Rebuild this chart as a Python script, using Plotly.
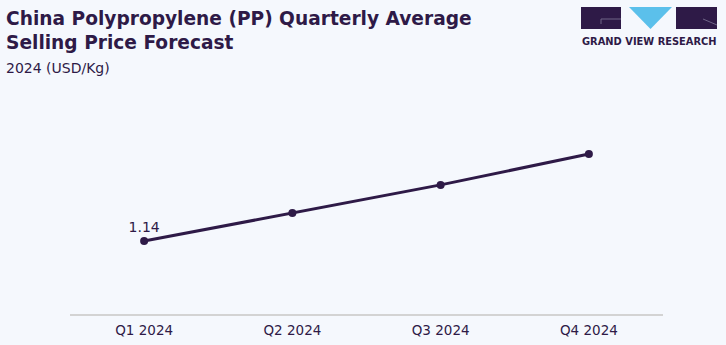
import plotly.graph_objects as go

quarters = ["Q1 2024", "Q2 2024", "Q3 2024", "Q4 2024"]
prices = [1.14, 1.18, 1.22, 1.264]
label_text = ["1.14", "", "", ""]

BG = "#f5f8fd"
DARK = "#2e1a47"

fig = go.Figure()
fig.add_trace(go.Scatter(
    x=quarters, y=prices, mode="lines+markers+text",
    line=dict(color=DARK, width=3),
    marker=dict(color=DARK, size=8),
    text=label_text, textposition="top center",
    textfont=dict(family="DejaVu Sans", size=14, color=DARK),
    cliponaxis=False, hoverinfo="skip",
))

fig.update_layout(
    width=726, height=345,
    margin=dict(l=70, r=63, t=100, b=31, autoexpand=False),
    paper_bgcolor=BG, plot_bgcolor=BG,
    showlegend=False,
    xaxis=dict(type="category", range=[-0.5, 3.5], showgrid=False, zeroline=False,
               showline=True, linecolor="#d3d3d3", linewidth=2, automargin=False,
               ticks="outside", ticklen=3, tickcolor="rgba(0,0,0,0)",
               tickfont=dict(family="DejaVu Sans", size=13.5, color=DARK)),
    yaxis=dict(range=[1.036, 1.341], visible=False, showgrid=False, zeroline=False),
)

# pixel->paper conversion
def px(xp):
    return (xp - 70) / 593
def py(yp):
    return (314 - yp) / 214

fig.add_annotation(
    text="<b>China Polypropylene (PP) Quarterly Average</b>",
    xref="paper", yref="paper", x=px(4), y=py(19), xanchor="left", yanchor="middle",
    align="left", showarrow=False,
    font=dict(family="DejaVu Sans", size=18.6, color=DARK),
)
fig.add_annotation(
    text="<b>Selling Price Forecast</b>",
    xref="paper", yref="paper", x=px(4), y=py(43), xanchor="left", yanchor="middle",
    align="left", showarrow=False,
    font=dict(family="DejaVu Sans", size=18.6, color=DARK),
)
fig.add_annotation(
    text="2024 (USD/Kg)",
    xref="paper", yref="paper", x=px(4), y=py(68), xanchor="left", yanchor="middle",
    align="left", showarrow=False,
    font=dict(family="DejaVu Sans", size=14, color=DARK),
)

fig.add_shape(type="rect", xref="paper", yref="paper", x0=px(581), x1=px(621), y0=py(29), y1=py(7),
              fillcolor=DARK, line=dict(width=0))
fig.add_shape(type="line", xref="paper", yref="paper", x0=px(601), x1=px(621), y0=py(19), y1=py(19),
              line=dict(color="#6f6487", width=1))
fig.add_shape(type="line", xref="paper", yref="paper", x0=px(601), x1=px(601), y0=py(19), y1=py(24),
              line=dict(color="#6f6487", width=1))
fig.add_shape(type="path", xref="paper", yref="paper",
              path=f"M {px(629)},{py(7)} L {px(672)},{py(7)} L {px(650.5)},{py(29)} Z",
              fillcolor="#5bc0eb", line=dict(width=0))
fig.add_shape(type="rect", xref="paper", yref="paper", x0=px(676), x1=px(717), y0=py(29), y1=py(7),
              fillcolor=DARK, line=dict(width=0))
fig.add_shape(type="line", xref="paper", yref="paper", x0=px(703), x1=px(717), y0=py(19), y1=py(25),
              line=dict(color="#6f6487", width=1))
fig.add_annotation(
    text="<b>GRAND VIEW RESEARCH</b>",
    xref="paper", yref="paper", x=px(649), y=py(41), xanchor="center", yanchor="middle",
    showarrow=False, font=dict(family="DejaVu Sans", size=9.9, color=DARK),
)

fig.write_html("out.html")
